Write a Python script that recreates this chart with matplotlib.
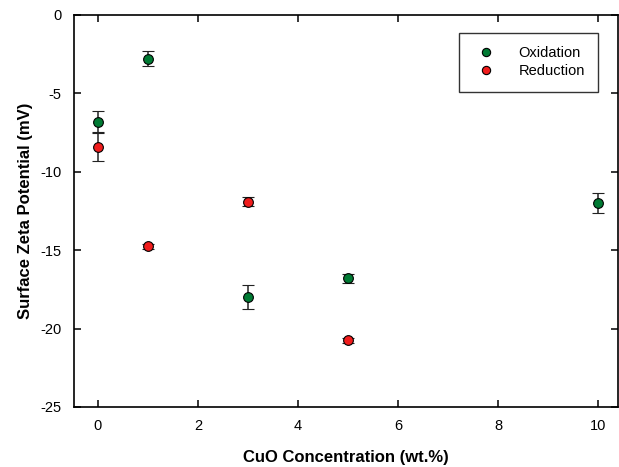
import numpy as np
from matplotlib import pyplot as plt

plt.rcParams['font.family'] = ['Liberation Sans', 'DejaVu Sans']
plt.rcParams['axes.unicode_minus'] = False

# CuO concentration (wt.%) and surface zeta potential (mV)
ox_x = [0, 1, 3, 5, 10]
ox_y = [-6.8, -2.8, -18.0, -16.8, -12.0]
ox_err = [0.65, 0.48, 0.77, 0.3, 0.65]

red_x = [0, 1, 3, 5]
red_y = [-8.4, -14.75, -11.9, -20.75]
red_err = [0.9, 0.15, 0.27, 0.15]

fig = plt.figure(figsize=(6.19, 4.67), dpi=100)
ax = fig.add_axes([0.1195, 0.1285, 0.879, 0.8395])

ax.errorbar(ox_x, ox_y, yerr=ox_err, fmt='o', color='#007a33', mec='black', mew=0.8,
            ms=7, ecolor='#222222', elinewidth=1.1, capsize=4.5, capthick=1.1,
            label='Oxidation', zorder=3)
ax.errorbar(red_x, red_y, yerr=red_err, fmt='o', color='#f01c1c', mec='black', mew=0.8,
            ms=7, ecolor='#222222', elinewidth=1.1, capsize=4.5, capthick=1.1,
            label='Reduction', zorder=3)

ax.set_xlim(-0.48, 10.4)
ax.set_ylim(-25, 0)
ax.set_xticks(np.arange(0, 11, 2))
ax.set_yticks(np.arange(-25, 1, 5))
ax.tick_params(direction='in', top=True, right=True, length=5, width=1.1,
               labelsize=10.5, pad=9)
for s in ax.spines.values():
    s.set_linewidth(1.2)

ax.set_xlabel('CuO Concentration (wt.%)', fontsize=12, fontweight='bold', labelpad=12)
ax.set_ylabel('Surface Zeta Potential (mV)', fontsize=12, fontweight='bold', labelpad=5)

handles, labels = ax.get_legend_handles_labels()
handles = [h[0] for h in handles]
leg = ax.legend(handles, labels, loc='upper right', bbox_to_anchor=(0.963, 0.954),
                borderaxespad=0, fontsize=10.5, frameon=True, fancybox=False,
                edgecolor='black', borderpad=0.9, handletextpad=1.2,
                labelspacing=0.3, markerscale=0.85)
leg.get_frame().set_linewidth(1.0)

plt.savefig('out.png', dpi=100)
